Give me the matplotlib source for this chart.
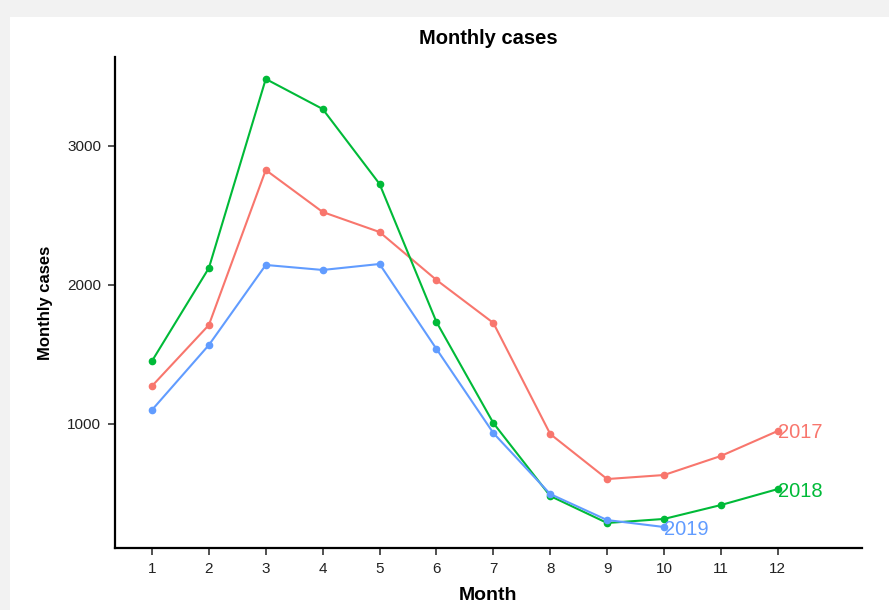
import numpy as np
import matplotlib.pyplot as plt
from matplotlib.patches import Rectangle

plt.rcParams['font.family'] = ['Liberation Sans', 'DejaVu Sans']

months = np.arange(1, 13)
cases_2017 = [1273, 1712, 2827, 2525, 2381, 2036, 1727, 928, 604, 633, 770, 950]
cases_2018 = [1453, 2122, 3482, 3266, 2727, 1734, 1007, 482, 288, 317, 417, 532]
cases_2019 = [1101, 1568, 2144, 2108, 2151, 1540, 935, 496, 309, 259]
years = ['2017', '2018', '2019']
colors = ['#F8766D', '#00BA38', '#619CFF']

fig = plt.figure(figsize=(8.89, 6.1), dpi=100, facecolor='#f2f2f2')
# white panel of the screenshot
fig.patches.append(Rectangle((10 / 889, 0), 1, 1 - 17 / 610, transform=fig.transFigure,
                             facecolor='white', edgecolor='none', zorder=-10))
ax = fig.add_axes([115 / 889, 1 - 548 / 610, (862 - 115) / 889, (548 - 57) / 610])
ax.set_zorder(1)
ax.set_facecolor('white')

for yr, vals, c in zip(years, [cases_2017, cases_2018, cases_2019], colors):
    x = months[:len(vals)]
    ax.plot(x, vals, color=c, lw=1.5, marker='o', ms=4.5)
    ax.text(x[-1], vals[-1], yr, color=c, fontsize=14.5, ha='left', va='center_baseline')

ax.set_xlim(0.35, 13.48)
ax.set_ylim(108, 3640)
ax.set_xticks(months)
ax.set_yticks([1000, 2000, 3000])
ax.tick_params(labelsize=11, length=5, width=1.2, color='#333333', labelcolor='#222222', pad=5)
for s in ['top', 'right']:
    ax.spines[s].set_visible(False)
for s in ['left', 'bottom']:
    ax.spines[s].set_linewidth(1.6)

ax.set_title('Monthly cases', fontsize=14.5, fontweight='bold', pad=9)
ax.set_xlabel('Month', fontsize=14, fontweight='bold', labelpad=8)
ax.set_ylabel('Monthly cases', fontsize=12, fontweight='bold', labelpad=10)

fig.savefig('out.png', dpi=100, facecolor=fig.get_facecolor())
